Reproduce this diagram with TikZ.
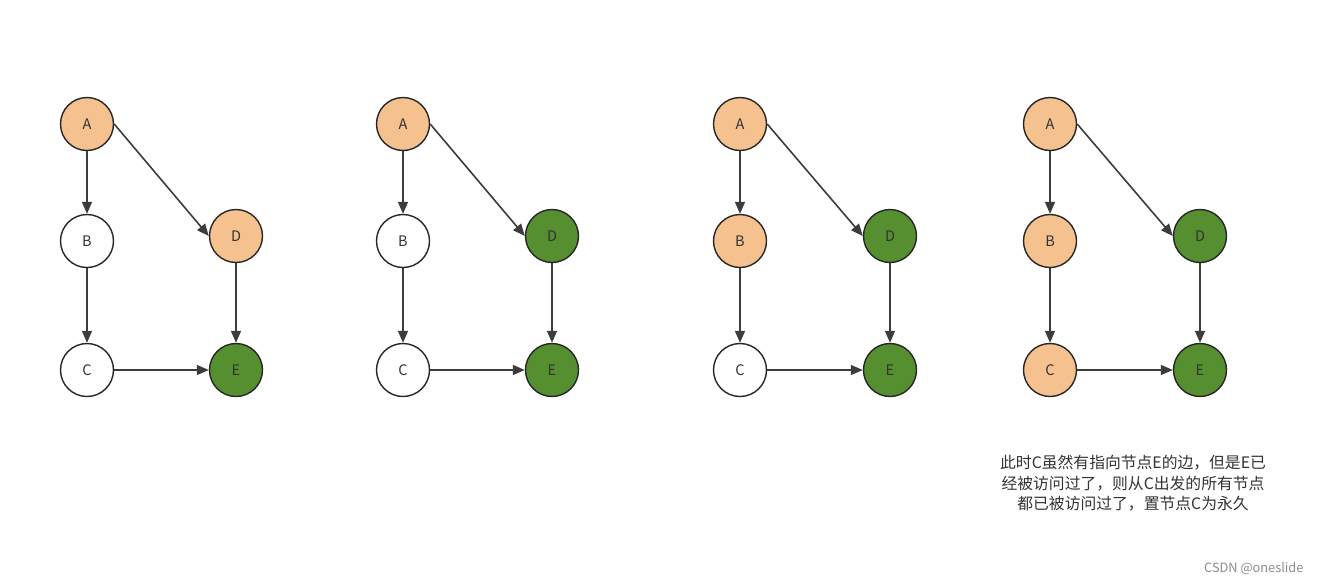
\documentclass[tikz,border=0pt]{standalone}
\usepackage{fontspec}
\setmainfont{Noto Sans CJK SC}
\usetikzlibrary{arrows.meta}
\definecolor{vis}{HTML}{F5C28F}
\definecolor{done}{HTML}{558F2F}
\definecolor{strk}{HTML}{262626}
\definecolor{txt}{HTML}{333333}
\tikzset{
  vnode/.style={circle, draw=strk, line width=1.4pt, minimum size=53pt, inner sep=0pt, font=\fontsize{14.5}{14.5}\selectfont, text=txt},
  wnode/.style={vnode, fill=white},
  onode/.style={vnode, fill=vis},
  gnode/.style={vnode, fill=done},
  edge/.style={draw=strk!90, line width=1.6pt, -{Triangle[length=12pt,width=10pt]}},
}
\begin{document}
\begin{tikzpicture}[x=1pt,y=-1pt]
\useasboundingbox (0,0) rectangle (1321,584);
% graph 1
\node[onode] (a1) at (87,124) {A};
\node[wnode] (b1) at (87,241) {B};
\node[wnode] (c1) at (87,370) {C};
\node[onode] (d1) at (236,236) {D};
\node[gnode] (e1) at (236,370) {E};
% graph 2
\node[onode] (a2) at (403,124) {A};
\node[wnode] (b2) at (403,241) {B};
\node[wnode] (c2) at (403,370) {C};
\node[gnode] (d2) at (552,236) {D};
\node[gnode] (e2) at (552,370) {E};
% graph 3
\node[onode] (a3) at (740,124) {A};
\node[onode] (b3) at (740,241) {B};
\node[wnode] (c3) at (740,370) {C};
\node[gnode] (d3) at (890,236) {D};
\node[gnode] (e3) at (890,370) {E};
% graph 4
\node[onode] (a4) at (1050,124) {A};
\node[onode] (b4) at (1050,241) {B};
\node[onode] (c4) at (1050,370) {C};
\node[gnode] (d4) at (1200,236) {D};
\node[gnode] (e4) at (1200,370) {E};
\foreach \i in {1,2,3,4}{
  \draw[edge] (a\i) -- (b\i);
  \draw[edge] (b\i) -- (c\i);
  \draw[edge] (a\i.east) -- (d\i.west);
  \draw[edge] (d\i) -- (e\i);
  \draw[edge] (c\i) -- (e\i);
}
\node[align=center, text=txt, font=\fontsize{15.8}{20.5}\selectfont] (note) at (1133,483.5) {此时C虽然有指向节点E的边，但是E已\\经被访问过了，则从C出发的所有节点\\都已被访问过了，置节点C为永久};
\node[text=black!45, font=\fontsize{12.8}{12.8}\selectfont, anchor=east] (mark) at (1307,569) {CSDN @oneslide};
\end{tikzpicture}
\end{document}
